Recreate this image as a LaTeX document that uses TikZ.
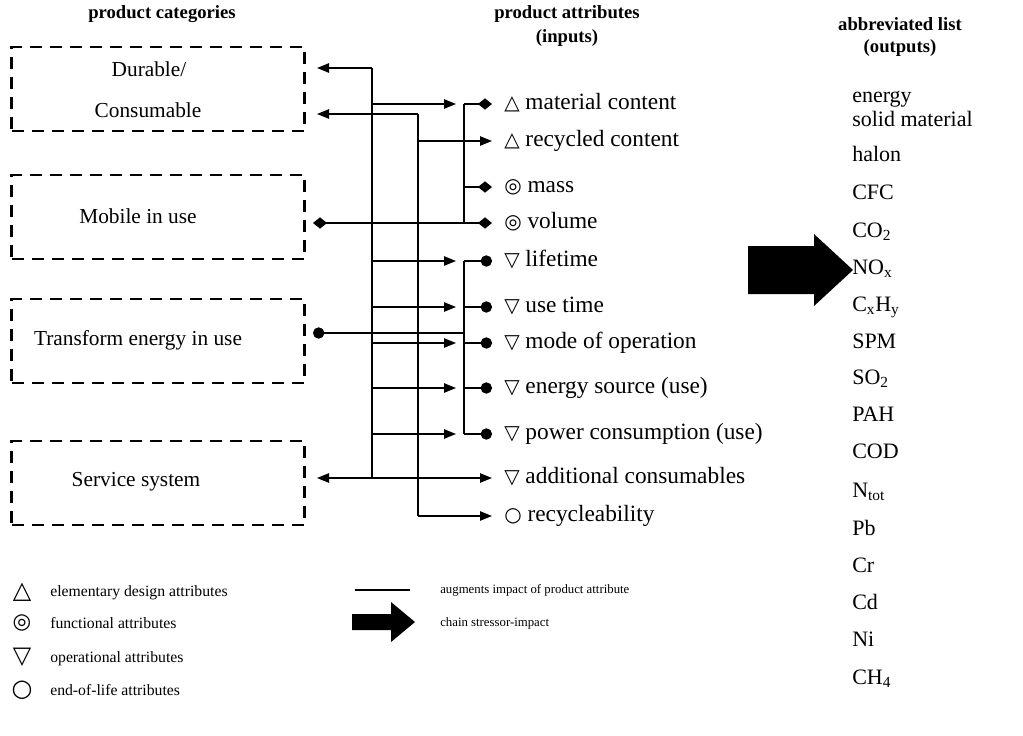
\documentclass[tikz,border=0pt]{standalone}
\usepackage{fontspec}
\setmainfont{Liberation Serif}
\newfontfamily\symfont{DejaVu Sans}
\usetikzlibrary{arrows.meta}

% attribute class symbols
\newcommand\symup[1][15]{{\symfont\fontsize{#1}{#1}\selectfont △}}
\newcommand\symfun[1][15]{{\symfont\fontsize{#1}{#1}\selectfont ◎}}
\newcommand\symdown[1][15]{{\symfont\fontsize{#1}{#1}\selectfont ▽}}
\newcommand\symeol[1][15]{{\symfont\fontsize{#1}{#1}\selectfont ○}}

\begin{document}
\begin{tikzpicture}[x=0.75pt,y=-0.75pt,
  catbox/.style={draw, line width=2.2pt, dash pattern=on 9pt off 6pt,
    minimum width=219.75pt, minimum height=63pt, inner sep=0pt},
  cattext/.style={inner sep=0pt, font=\fontsize{16}{19}\selectfont},
  title/.style={inner sep=0pt, font=\fontsize{14}{16}\selectfont\bfseries},
  attr/.style={anchor=west, inner ysep=0pt, inner xsep=9pt,
    text height=12pt, text depth=3.5pt, font=\fontsize{17.5}{21}\selectfont},
  outp/.style={anchor=west, inner sep=0pt, text height=11.5pt, text depth=3.5pt,
    font=\fontsize{16.5}{20}\selectfont},
  legsym/.style={inner sep=0pt},
  legtext/.style={anchor=west, inner sep=0pt, text height=8pt, text depth=2pt,
    font=\fontsize{11.8}{13}\selectfont},
  legtextr/.style={legtext, font=\fontsize{9.6}{12}\selectfont},
  conn/.style={line width=1.1pt},
  hd/.tip={Triangle[length=9pt,width=7pt]},
  dm/.tip={Diamond[length=10.5pt,width=8.5pt]},
  dt/.tip={Circle[length=8.5pt]},
]
\useasboundingbox (0,0) rectangle (1023,735);

% column titles
\node[title] (t1) at (162,14) {product categories};
\node[title] (t2) at (567,14) {product attributes};
\node[title] (t2b) at (567,38) {(inputs)};
\node[title] (t3) at (900,24) {abbreviated list};
\node[title] (t3b) at (900,48) {(outputs)};

% product categories
\node[catbox] (b1) at (158,89) {};
\node[catbox] (b2) at (158,217) {};
\node[catbox] (b3) at (158,341) {};
\node[catbox] (b4) at (158,483) {};
\node[cattext] (c1a) at (149,69) {Durable/};
\node[cattext] (c1b) at (148,110) {Consumable};
\node[cattext] (c2) at (138,216) {Mobile in use};
\node[cattext] (c3) at (138,340) {Transform energy in use};
\node[cattext] (c4) at (136,482) {Service system};

% product attributes
\node[attr] (a1)  at (492,104) {\symup\ material content};
\node[attr] (a2)  at (492,141) {\symup\ recycled content};
\node[attr] (a3)  at (492,187) {\symfun\ mass};
\node[attr] (a4)  at (492,223) {\symfun\ volume};
\node[attr] (a5)  at (492,261) {\symdown\ lifetime};
\node[attr] (a6)  at (492,307) {\symdown\ use time};
\node[attr] (a7)  at (492,343) {\symdown\ mode of operation};
\node[attr] (a8)  at (492,388) {\symdown\ energy source (use)};
\node[attr] (a9)  at (492,434) {\symdown\ power consumption (use)};
\node[attr] (a10) at (492,478) {\symdown\ additional consumables};
\node[attr] (a11) at (492,516) {\symeol\ recycleability};

% outputs
\node[outp] (o1)  at (852,97)  {energy};
\node[outp] (o2)  at (852,121) {solid material};
\node[outp] (o3)  at (852,156) {halon};
\node[outp] (o4)  at (852,194) {CFC};
\node[outp] (o5)  at (852,232) {CO\textsubscript{2}};
\node[outp] (o6)  at (852,269) {NO\textsubscript{x}};
\node[outp] (o7)  at (852,306) {C\textsubscript{x}H\textsubscript{y}};
\node[outp] (o8)  at (852,343) {SPM};
\node[outp] (o9)  at (852,379) {SO\textsubscript{2}};
\node[outp] (o10) at (852,416) {PAH};
\node[outp] (o11) at (852,453) {COD};
\node[outp] (o12) at (852,492) {N\textsubscript{tot}};
\node[outp] (o13) at (852,530) {Pb};
\node[outp] (o14) at (852,567) {Cr};
\node[outp] (o15) at (852,604) {Cd};
\node[outp] (o16) at (852,641) {Ni};
\node[outp] (o17) at (852,679) {CH\textsubscript{4}};

% stressor-impact chain arrow
\fill (748,246) -- (814,246) -- (814,234) -- (853,270) -- (814,306)
  -- (814,294) -- (748,294) -- cycle;

% bus junctions
\coordinate (v1t) at (372,68);
\coordinate (v1b) at (372,478);
\coordinate (v2t) at (418,114);
\coordinate (v2b) at (418,516);
\coordinate (v3t) at (464,104);
\coordinate (v3m) at (464,223);
\coordinate (v3u) at (464,261);
\coordinate (v3l) at (464,434);
% free ends at the category boxes
\coordinate (p1) at (317,68);
\coordinate (p2) at (317,114);
\coordinate (p3) at (313,223);
\coordinate (p4) at (313,333);
\coordinate (p5) at (317,478);

\begin{scope}[conn]
  % vertical buses
  \draw (v1t) -- (v1b);
  \draw (v2t) -- (v2b);
  \draw (v3t) -- (v3m);
  \draw (v3u) -- (v3l);
  % links to the categories
  \draw[-hd] (v1t) -- (p1);
  \draw[-hd] (v2t) -- (p2);
  \draw[dm-dm] (p3) -- (a4.west);
  \draw[dt-] (p4) -- (v3t |- p4);
  \draw[hd-hd] (p5) -- (a10.west);
  % arrows from bus 1
  \foreach \a in {a1,a5,a6,a7,a8,a9}
    \draw[-hd] (v1t |- \a.west) -- ([xshift=-27pt]\a.west);
  % arrows from bus 2
  \draw[-hd] (v2t |- a2.west) -- (a2.west);
  \draw[-hd] (v2t |- a11.west) -- (a11.west);
  % bus 3 to its attributes
  \foreach \a in {a1,a3}
    \draw[-dm] (v3t |- \a.west) -- (\a.west);
  \foreach \a in {a5,a6,a7,a8,a9}
    \draw[-dt] (v3t |- \a.west) -- (\a.west);
\end{scope}

% legend
\node[legsym] (l1) at (22,592) {\symup[18]};
\node[legsym] (l2) at (22,623) {\symfun[16]};
\node[legsym] (l3) at (22,657) {\symdown[18]};
\node[legsym] (l4) at (22,690) {\symeol[18]};
\node[legtext] (l1t) at (50,592) {elementary design attributes};
\node[legtext] (l2t) at (50,624) {functional attributes};
\node[legtext] (l3t) at (50,658) {operational attributes};
\node[legtext] (l4t) at (50,691) {end-of-life attributes};
\coordinate (ls) at (355,590);
\coordinate (le) at (410,590);
\draw[conn] (ls) -- (le);
\node[legtextr] (l5t) at (440,589) {augments impact of product attribute};
\fill (352,614) -- (391,614) -- (391,602) -- (415,622) -- (391,642)
  -- (391,630) -- (352,630) -- cycle;
\node[legtextr] (l6t) at (440,622) {chain stressor-impact};
\end{tikzpicture}
\end{document}
